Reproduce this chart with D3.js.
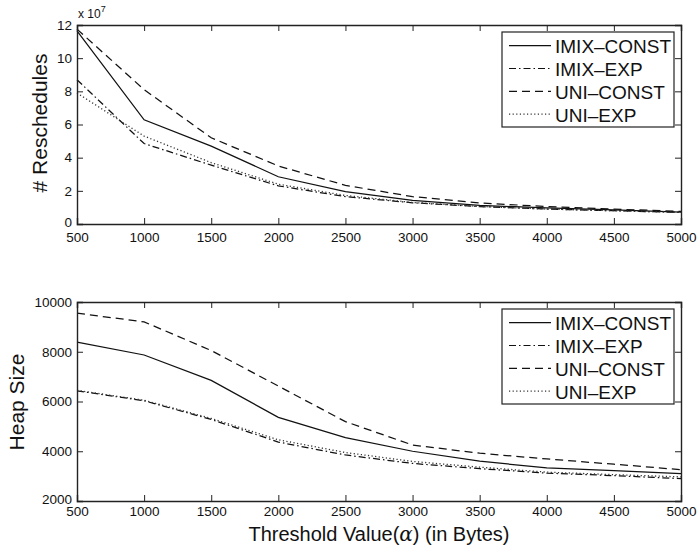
<!DOCTYPE html>
<html lang="en">
<head>
    <meta charset="UTF-8">
    <title>Reschedules and Heap Size</title>
    <script src="https://d3js.org/d3.v7.min.js"></script>
    <style>
        body { margin: 0; background: #fff; }
        svg { display: block; font-family: "Liberation Sans", Arial, sans-serif; }
    </style>
</head>
<body>
    <script>
        // x values shared by both panels
        var thresholds = [500, 1000, 1500, 2000, 2500, 3000, 3500, 4000, 4500, 5000]
        var seriesNames = ['IMIX\u2013CONST', 'IMIX\u2013EXP', 'UNI\u2013CONST', 'UNI\u2013EXP']

        // top panel, units of 1e7
        var reschedImixConst = [11.65, 6.28, 4.7, 2.85, 1.95, 1.42, 1.12, 0.97, 0.85, 0.72]
        var reschedImixExp   = [8.7, 4.85, 3.55, 2.3, 1.65, 1.28, 1.05, 0.9, 0.8, 0.7]
        var reschedUniConst  = [11.75, 8.1, 5.2, 3.5, 2.33, 1.65, 1.27, 1.05, 0.9, 0.76]
        var reschedUniExp    = [7.9, 5.3, 3.7, 2.4, 1.72, 1.3, 1.06, 0.9, 0.8, 0.7]

        // bottom panel
        var heapImixConst = [8390, 7870, 6850, 5360, 4550, 4000, 3600, 3330, 3220, 3100]
        var heapImixExp   = [6430, 6030, 5280, 4370, 3850, 3510, 3300, 3120, 3020, 2900]
        var heapUniConst  = [9550, 9200, 8050, 6620, 5190, 4250, 3920, 3690, 3480, 3260]
        var heapUniExp    = [6450, 6050, 5320, 4460, 3950, 3590, 3360, 3160, 3060, 2970]

        var dashes = [null, '7,3,1.5,3', '8,5', '1.2,2.4']

        var w = 698, h = 549
        var left = 77, right = 681

        var svg = d3.select('body').append('svg')
                    .attr('width', w)
                    .attr('height', h)

        var xScale = d3.scaleLinear().domain([500, 5000]).range([left, right])

        function drawPanel(top, bottom, domain, yTicks, series, legendTop, xPad) {
            var yScale = d3.scaleLinear().domain(domain).range([bottom, top])
            var g = svg.append('g')

            // lines
            var line = d3.line()
                .x((d, i) => xScale(thresholds[i]))
                .y((d) => yScale(d))

            series.forEach(function(s, k) {
                g.append('path')
                    .attr('d', line(s))
                    .attr('fill', 'none')
                    .attr('stroke', k == 3 ? '#333' : '#111')
                    .attr('stroke-width', k == 3 ? 1.3 : 1.25)
                    .attr('stroke-dasharray', dashes[k])
            })

            // axes with inner ticks on all four sides
            var xb = d3.axisBottom(xScale).tickValues(thresholds).tickSize(-6).tickPadding(xPad).tickFormat(d3.format('d'))
            var xt = d3.axisTop(xScale).tickValues(thresholds).tickSize(-6).tickFormat('')
            var yl = d3.axisLeft(yScale).tickValues(yTicks).tickSize(-6).tickPadding(5).tickFormat(d3.format('d'))
            var yr = d3.axisRight(yScale).tickValues(yTicks).tickSize(-6).tickFormat('')

            g.append('g').attr('transform', 'translate(0,' + bottom + ')').call(xb)
            g.append('g').attr('transform', 'translate(0,' + top + ')').call(xt)
            var ya = g.append('g').attr('transform', 'translate(' + left + ',0)').call(yl)
            g.append('g').attr('transform', 'translate(' + right + ',0)').call(yr)

            // lowest y label sits a touch higher so it clears the first x label
            ya.selectAll('.tick text').filter((d) => d == domain[0]).attr('dy', '0.2em')

            g.selectAll('.domain').attr('stroke', '#222').attr('stroke-width', 1.4)
            g.selectAll('.tick line').attr('stroke', '#222').attr('stroke-width', 1)
            g.selectAll('.tick text').attr('font-size', 13.5).attr('fill', '#111')
                .attr('font-family', '"Liberation Sans", Arial, sans-serif')

            // legend
            var lx = 502, lw = 172, lh = 95
            var leg = g.append('g').attr('transform', 'translate(' + lx + ',' + legendTop + ')')
            leg.append('rect')
                .attr('width', lw).attr('height', lh)
                .attr('fill', '#fff').attr('stroke', '#222').attr('stroke-width', 1.2)
            seriesNames.forEach(function(name, k) {
                var yy = 13.7 + k * 22.8
                leg.append('line')
                    .attr('x1', 7).attr('x2', 49).attr('y1', yy).attr('y2', yy)
                    .attr('stroke', k == 3 ? '#333' : '#111')
                    .attr('stroke-width', 1.2)
                    .attr('stroke-dasharray', dashes[k])
                leg.append('text')
                    .attr('x', 53).attr('y', yy + 7.5)
                    .attr('font-size', 19).attr('fill', '#111')
                    .text(name)
            })
            return g
        }

        drawPanel(25, 224, [0, 12], [0, 2, 4, 6, 8, 10, 12],
            [reschedImixConst, reschedImixExp, reschedUniConst, reschedUniExp], 32, 8)
        drawPanel(302, 501, [2000, 10000], [2000, 4000, 6000, 8000, 10000],
            [heapImixConst, heapImixExp, heapUniConst, heapUniExp], 309, 5)

        // exponent marker
        var expo = svg.append('text').attr('x', 78).attr('y', 18).attr('font-size', 12).attr('fill', '#111')
        expo.append('tspan').text('x 10')
        expo.append('tspan').attr('dy', -6).attr('font-size', 9).text('7')

        // axis titles
        svg.append('text')
            .attr('transform', 'translate(47,123) rotate(-90)')
            .attr('text-anchor', 'middle')
            .attr('font-size', 21).attr('fill', '#111')
            .text('# Reschedules')

        svg.append('text')
            .attr('transform', 'translate(24,402) rotate(-90)')
            .attr('text-anchor', 'middle')
            .attr('font-size', 21).attr('fill', '#111')
            .text('Heap Size')

        var xt = svg.append('text')
            .attr('x', 379).attr('y', 541)
            .attr('text-anchor', 'middle')
            .attr('font-size', 20).attr('fill', '#111')
        xt.append('tspan').text('Threshold Value(')
        xt.append('tspan').attr('font-family', '"DejaVu Serif", serif').attr('font-style', 'italic').text('\u03b1')
        xt.append('tspan').text(') (in Bytes)')
    </script>
</body>
</html>
